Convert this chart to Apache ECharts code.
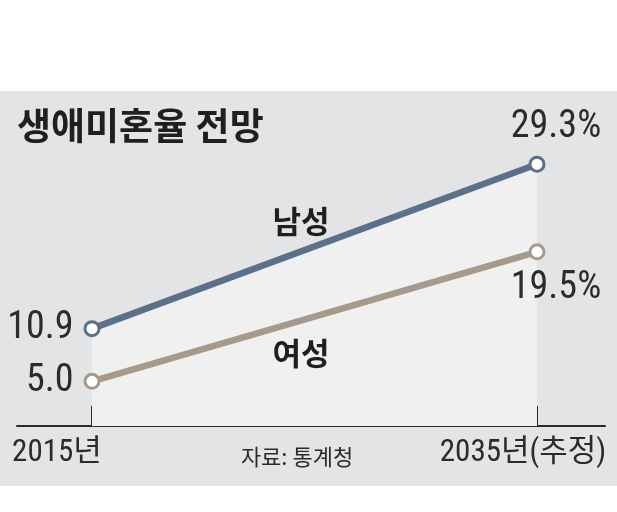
<!DOCTYPE html>
<html>
<head>
<meta charset="utf-8">
<script src="https://cdn.jsdelivr.net/npm/echarts@6/dist/echarts.min.js"></script>
<style>
html,body{margin:0;padding:0;background:#fff;}
#c{width:617px;height:512px;}
</style>
</head>
<body>
<div id="c"></div>
<script>
var titleText = '생애미혼율 전망';
var sourceText = '자료: 통계청';
var categories = ['2015년', '2035년(추정)'];
var seriesNames = ['남성', '여성'];
var maleValues = [10.9, 29.3];
var femaleValues = [5.0, 19.5];
var maleLabels = ['10.9', '29.3%'];
var femaleLabels = ['5.0', '19.5%'];

var NUM_FONT = "'Liberation Sans Narrow', 'Roboto Condensed', 'DejaVu Sans Condensed', Roboto, 'Noto Sans CJK KR', sans-serif";
var KR_FONT = "'Noto Sans CJK KR', 'Noto Sans', sans-serif";
var MALE = '#5b7089';
var FEMALE = '#a89a8a';
var TEXT = '#2b2b2b';

function pts(vals) { return vals.map(function (v, i) { return [i, v]; }); }

var chart = echarts.init(document.getElementById('c'), null, {renderer: 'canvas'});
chart.setOption({
  backgroundColor: '#ffffff',
  animation: false,
  grid: {left: 17, right: 12, top: 158, bottom: 86},
  xAxis: {
    type: 'value',
    min: -0.1685,
    max: 1.1528,
    splitLine: {show: false},
    axisLine: {show: true, onZero: false, lineStyle: {color: '#2a2a2a', width: 2}},
    axisTick: {show: true, inside: true, length: 20, customValues: [0, 1], lineStyle: {color: '#2a2a2a', width: 2}},
    axisLabel: {
      show: true,
      customValues: [0, 1],
      margin: 12,
      color: TEXT,
      fontSize: 31,
      fontFamily: NUM_FONT,
      formatter: function (v) {
        if (v === 0) return '{l|' + categories[0] + '}';
        if (v === 1) return '{r|' + categories[1] + '}';
        return '';
      },
      rich: {
        l: {fontSize: 31, fontFamily: NUM_FONT, color: TEXT, padding: [0, 70, 0, 0]},
        r: {fontSize: 31, fontFamily: NUM_FONT, color: TEXT, padding: [0, 28, 0, 0]}
      }
    }
  },
  yAxis: {
    type: 'value', min: 0, max: 30, show: false, splitLine: {show: false}
  },
  graphic: [
    {type: 'rect', z: -10, silent: true, shape: {x: 0, y: 91, width: 617, height: 395}, style: {fill: '#e3e4e6'}},
    {type: 'text', z: 100, left: 17, top: 107, style: {text: titleText, font: 'bold 37px ' + KR_FONT, fill: '#1f1f1f'}},
    {type: 'text', z: 100, x: 297, y: 457, style: {text: sourceText, font: '22px ' + KR_FONT, fill: TEXT, align: 'center', verticalAlign: 'middle'}},
    {type: 'text', z: 100, x: 301, y: 221, style: {text: seriesNames[0], font: 'bold 31px ' + KR_FONT, fill: '#1f1f1f', align: 'center', verticalAlign: 'middle'}},
    {type: 'text', z: 100, x: 301, y: 353, style: {text: seriesNames[1], font: 'bold 31px ' + KR_FONT, fill: '#1f1f1f', align: 'center', verticalAlign: 'middle'}}
  ],
  series: [
    {
      name: seriesNames[0],
      type: 'line',
      data: [
        {value: [0, maleValues[0]], label: {position: 'left', distance: 10}},
        {value: [1, maleValues[1]], label: {position: 'top', distance: 9, offset: [19, 0]}}
      ],
      symbol: 'circle',
      symbolSize: 14,
      lineStyle: {color: MALE, width: 6.5},
      itemStyle: {color: '#ffffff', borderColor: MALE, borderWidth: 3},
      areaStyle: {color: '#f0f0f1', opacity: 1, origin: 'start'},
      label: {
        show: true,
        color: TEXT,
        fontSize: 38,
        fontFamily: NUM_FONT,
        formatter: function (p) { return maleLabels[p.dataIndex]; }
      },
      z: 2
    },
    {
      name: seriesNames[1],
      type: 'line',
      data: [
        {value: [0, femaleValues[0]], label: {position: 'left', distance: 10}},
        {value: [1, femaleValues[1]], label: {position: 'bottom', distance: 9, offset: [19, 0]}}
      ],
      symbol: 'circle',
      symbolSize: 14,
      lineStyle: {color: FEMALE, width: 6.5},
      itemStyle: {color: '#ffffff', borderColor: FEMALE, borderWidth: 3},
      label: {
        show: true,
        color: TEXT,
        fontSize: 38,
        fontFamily: NUM_FONT,
        formatter: function (p) { return femaleLabels[p.dataIndex]; }
      },
      z: 3
    }
  ]
});
</script>
</body>
</html>
